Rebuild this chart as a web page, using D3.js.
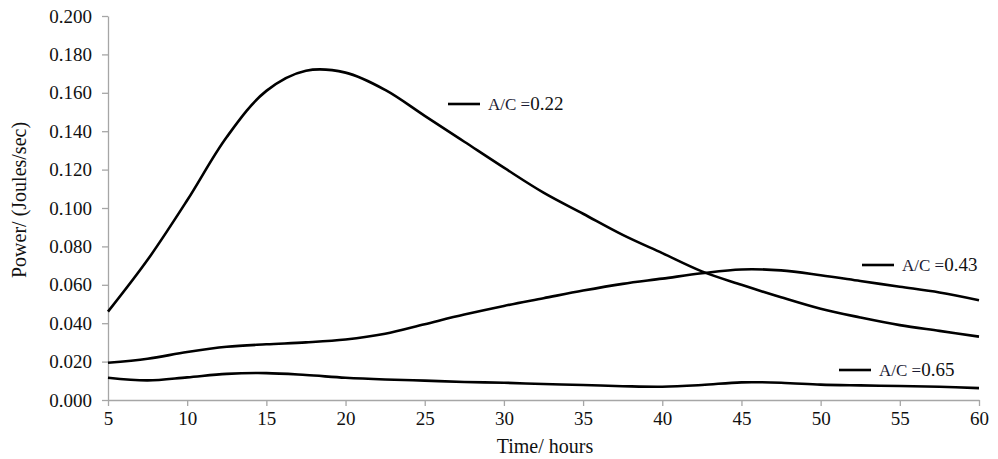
<!DOCTYPE html>
<html>
<head>
<meta charset="utf-8">
<script src="https://cdn.jsdelivr.net/npm/d3@7"></script>
<style>
  body { margin: 0; background: #fff; }
  text { font-family: "Liberation Serif", "Times New Roman", serif; fill: #111; }
  .axis path, .axis line { stroke: #a6a6a6; stroke-width: 1.3; }
</style>
</head>
<body>
<div id="chart"></div>
<script>
// Time in hours
const hours = [5, 7.5, 10, 12.5, 15, 17.5, 20, 22.5, 25, 27.5, 30, 32.5, 35,
  37.5, 40, 42.5, 45, 47.5, 50, 52.5, 55, 57.5, 60];

// Power (Joules/sec) for each A/C ratio
const ac022 = [0.046, 0.073, 0.104, 0.137, 0.161, 0.1715, 0.1705, 0.1615, 0.148, 0.1345,
  0.121, 0.108, 0.097, 0.086, 0.0765, 0.0670, 0.0600, 0.0535, 0.0475, 0.043, 0.039, 0.036, 0.033];
const ac043 = [0.0194, 0.0215, 0.0250, 0.0277, 0.0290, 0.0300, 0.0315, 0.0345, 0.0395, 0.0445,
  0.0490, 0.0530, 0.0570, 0.0605, 0.0632, 0.0660, 0.0680, 0.0675, 0.0650, 0.0620, 0.0590, 0.0560, 0.0520];
const ac065 = [0.0116, 0.0102, 0.0118, 0.0136, 0.0140, 0.0130, 0.0116, 0.0107, 0.0101, 0.0094,
  0.0090, 0.0083, 0.0078, 0.0072, 0.0069, 0.0078, 0.0092, 0.0090, 0.0080, 0.0076, 0.0073, 0.0069, 0.0062];

const xTicks = [5, 10, 15, 20, 25, 30, 35, 40, 45, 50, 55, 60];
const yTicks = [0, 0.02, 0.04, 0.06, 0.08, 0.1, 0.12, 0.14, 0.16, 0.18, 0.2];

const series = [
  { name: 'A/C =', value: '0.22', data: ac022, lx: 448, ly: 104 },
  { name: 'A/C =', value: '0.43', data: ac043, lx: 862, ly: 265 },
  { name: 'A/C =', value: '0.65', data: ac065, lx: 839, ly: 370 }
];

const width = 998, height = 459;
const margin = { top: 16, right: 19, bottom: 59, left: 108 };
const serif = '"Liberation Serif", "Times New Roman", serif';

const svg = d3.select('#chart').append('svg')
  .attr('width', width)
  .attr('height', height);

const x = d3.scaleLinear().domain([5, 60]).range([margin.left, width - margin.right]);
const y = d3.scaleLinear().domain([0, 0.2]).range([height - margin.bottom, margin.top]);

// axes
const gx = svg.append('g')
  .attr('class', 'axis')
  .attr('transform', `translate(0,${height - margin.bottom})`)
  .call(d3.axisBottom(x).tickValues(xTicks).tickSize(6).tickSizeOuter(0).tickPadding(6));

const gy = svg.append('g')
  .attr('class', 'axis')
  .attr('transform', `translate(${margin.left},0)`)
  .call(d3.axisLeft(y).tickValues(yTicks).tickFormat(d3.format('.3f'))
    .tickSize(6).tickSizeOuter(0).tickPadding(10));

[gx, gy].forEach(g => {
  g.attr('font-family', serif).attr('font-size', 19);
  g.selectAll('text').style('font-family', serif).style('font-size', '19px').attr('fill', '#111');
});

// axis titles
svg.append('text')
  .attr('x', 545)
  .attr('y', 453)
  .attr('text-anchor', 'middle')
  .style('font-size', '20px')
  .text('Time/ hours');

svg.append('text')
  .attr('transform', 'translate(26,200) rotate(-90)')
  .attr('text-anchor', 'middle')
  .style('font-size', '20px')
  .text('Power/ (Joules/sec)');

// lines
const line = d3.line()
  .x((d, i) => x(hours[i]))
  .y(d => y(d))
  .curve(d3.curveCatmullRom.alpha(0.5));

svg.selectAll('.series')
  .data(series)
  .join('path')
  .attr('class', 'series')
  .attr('d', d => line(d.data))
  .attr('fill', 'none')
  .attr('stroke', '#000')
  .attr('stroke-width', 2.6);

// labels next to curves
const lab = svg.selectAll('.lab')
  .data(series)
  .join('g')
  .attr('class', 'lab');

lab.append('line')
  .attr('x1', d => d.lx)
  .attr('x2', d => d.lx + 32)
  .attr('y1', d => d.ly)
  .attr('y2', d => d.ly)
  .attr('stroke', '#000')
  .attr('stroke-width', 2.6);

const t = lab.append('text')
  .attr('x', d => d.lx + 40)
  .attr('y', d => d.ly + 6);
t.append('tspan').style('font-size', '17px').style('fill', '#1a1a33').text(d => d.name);
t.append('tspan').style('font-size', '19px').text(d => d.value);
</script>
</body>
</html>
